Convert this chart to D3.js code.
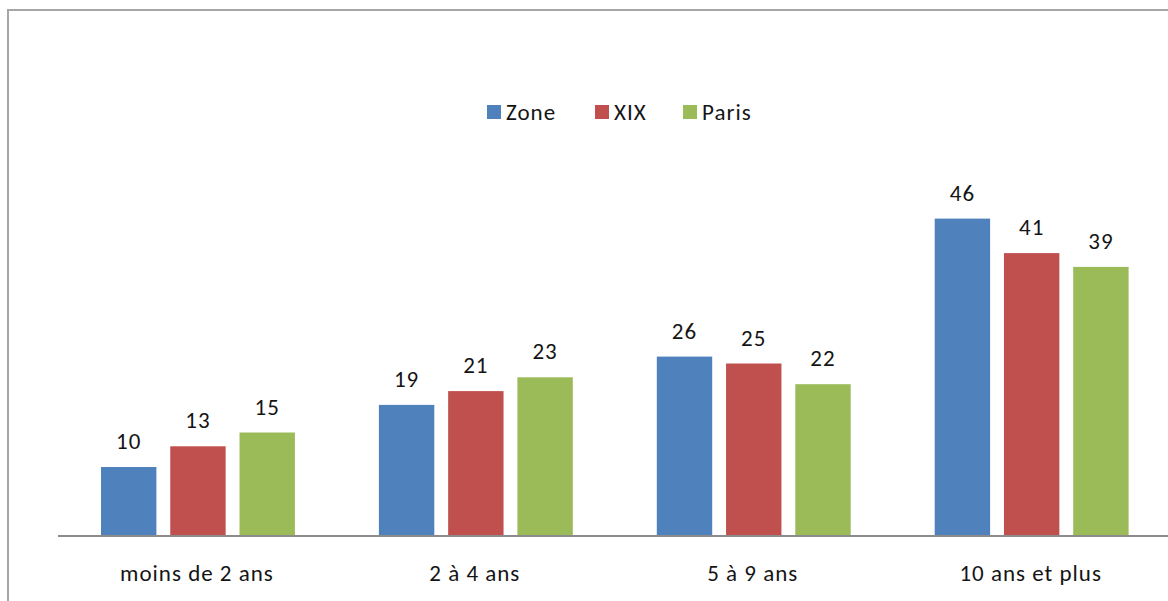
<!DOCTYPE html>
<html>
<head>
<meta charset="utf-8">
<script src="https://cdn.jsdelivr.net/npm/d3@7"></script>
<style>
  html, body { margin: 0; padding: 0; background: #fff; }
  svg { display: block; }
  text { font-family: Carlito, Lato, "Open Sans", sans-serif; fill: #141414; letter-spacing: 1px; }
</style>
</head>
<body>
<svg id="chart" width="1168" height="601"></svg>
<script>
// Durée d'ancienneté, en % — trois territoires comparés
const categories = ["moins de 2 ans", "2 à 4 ans", "5 à 9 ans", "10 ans et plus"];
const seriesNames = ["Zone", "XIX", "Paris"];
const zoneValues = [10, 19, 26, 46];
const xixValues = [13, 21, 25, 41];
const parisValues = [15, 23, 22, 39];
const seriesColors = ["#4f81bd", "#c0504d", "#9bbb59"];

const seriesValues = [zoneValues, xixValues, parisValues];

const svg = d3.select("#chart");
const W = 1168, H = 601;
const FS = 23;

// chart frame (open to the right and bottom)
svg.append("rect")
  .attr("x", 8).attr("y", 10)
  .attr("width", W + 20).attr("height", H + 20)
  .attr("fill", "#fff")
  .attr("stroke", "#a6a6a6")
  .attr("stroke-width", 2);

const plotLeft = 58, plotRight = 1169.6, baseY = 536;

const x0 = d3.scaleBand().domain(categories).range([plotLeft, plotRight]).padding(0);
const x1 = d3.scaleBand().domain(seriesNames)
  .range([43, x0.bandwidth() - 41])
  .paddingInner(0.2).paddingOuter(0);
const y = d3.scaleLinear().domain([0, 50]).range([baseY, 191]);

const groups = svg.append("g").selectAll("g")
  .data(categories)
  .join("g")
  .attr("transform", d => `translate(${x0(d)},0)`);

const cells = groups.selectAll("g.bar")
  .data((c, i) => seriesNames.map((s, k) => ({ series: s, k, value: seriesValues[k][i] })))
  .join("g").attr("class", "bar");

cells.append("rect")
  .attr("x", d => x1(d.series))
  .attr("y", d => y(d.value))
  .attr("width", x1.bandwidth())
  .attr("height", d => baseY - y(d.value))
  .attr("fill", d => seriesColors[d.k]);

cells.append("text")
  .attr("x", d => x1(d.series) + x1.bandwidth() / 2)
  .attr("y", d => y(d.value) - 18)
  .attr("text-anchor", "middle")
  .attr("font-size", FS)
  .text(d => d.value);

// category axis
const xAxis = svg.append("g")
  .attr("transform", `translate(0,${baseY})`)
  .call(d3.axisBottom(x0).tickSize(0).tickPadding(0));
xAxis.select(".domain").attr("stroke", "#8c8c8c").attr("stroke-width", 2)
  .attr("d", `M${plotLeft},0H${W + 10}`);
xAxis.selectAll(".tick text")
  .attr("y", 45).attr("dy", null)
  .attr("font-size", FS)
  .attr("font-family", "Carlito, Lato, 'Open Sans', sans-serif")
  .attr("fill", "#141414");

// legend
const legendItems = [
  { name: "Zone", x: 487 },
  { name: "XIX", x: 595 },
  { name: "Paris", x: 683 }
];
const legend = svg.append("g").selectAll("g")
  .data(legendItems)
  .join("g")
  .attr("transform", d => `translate(${d.x},105)`);
legend.append("rect")
  .attr("width", 14).attr("height", 14)
  .attr("fill", (d, i) => seriesColors[i]);
legend.append("text")
  .attr("x", 19).attr("y", 15)
  .attr("font-size", FS)
  .text(d => d.name);
</script>
</body>
</html>
